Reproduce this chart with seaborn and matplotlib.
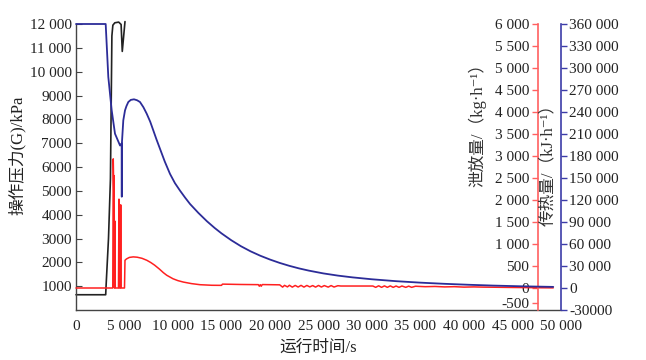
import matplotlib
matplotlib.use("Agg")
import matplotlib.pyplot as plt
import seaborn as sns
import pandas as pd

# ---------------- data ----------------
# pressure (kPa, left axis)
p_time = [0, 3060, 3100, 3350, 3550, 3700, 3800, 4000, 4400, 4650, 4770, 5050]
p_val = [640, 640, 1000, 3000, 5500, 11500, 11950, 12050, 12080, 11980, 10850, 12100]

# heat transfer (kJ/h, blue axis)
q_time = [0, 3060, 3330, 3680, 4020, 4540, 4711, 4720, 4730, 4876, 5052, 5200, 5392,
          5650, 5979, 6300, 6598, 6950, 7289, 7650, 7969, 8300, 8660, 9150, 9691,
          10200, 10722, 11250, 11753, 12608, 13500, 14300, 15000, 16000, 17000,
          18000, 19000, 20000, 21000, 22000, 23000, 24000, 25500, 27000, 28500,
          30500, 33000, 35500, 38000, 40500, 43000, 46000, 49200]
q_val = [360000, 360000, 287800, 242200, 210400, 194300, 197100, 124500, 197100, 228600,
         242200, 248000, 253600, 256500, 257300, 256000, 253600, 246500, 237700,
         226800, 214900, 202500, 189800, 172500, 155600, 143000, 132800, 123200,
         114600, 102500, 91000, 81800, 74500, 65200, 57000, 50000, 44000, 38800,
         34200, 30200, 26700, 23700, 19900, 16900, 14500, 11900, 9300, 7300, 5700,
         4400, 3300, 2300, 1500]

# release rate (kg/h, red axis)
r_time = [0, 3790, 3840, 3900, 3930, 3970, 4010, 4050, 4380, 4430, 4480, 4560, 4610,
          4660, 5000, 5050, 5200, 5500, 5900, 6300, 6800, 7300, 7700, 8100, 8600,
          9000, 9351, 10000, 10500, 11062, 11900, 12784, 14000, 15000, 15100,
          17000, 18800, 18900, 19000, 19100, 19200, 21000, 21300, 21500, 21800, 22000,
          22300, 22600, 22900, 23200, 23500, 23800, 24100, 24400, 24700, 25000, 25300,
          25600, 26000, 26300, 26600, 27000, 27300, 28200, 30600, 30900, 31200, 31500,
          31800, 32100, 32400, 32700, 33000, 33300, 33600, 34000, 34300, 34600, 35000,
          36000, 37000, 38000, 39000, 40000, 41000, 42000, 43000, 44000, 45000, 46000,
          47000, 48000, 49200]
r_val = [0, 0, 2935, 2100, 2555, 0, 1520, 0, 0, 2020, 0, 0, 1890,
         0, 0, 630, 660, 695, 707, 700, 675, 630, 580, 520, 430,
         350, 290, 210, 168, 135, 100, 75, 62, 60, 88,
         80, 76, 40, 76, 40, 78, 72, 20, 60, 25, 62, 20, 58, 22, 60, 20, 58, 25, 55,
         20, 58, 22, 55, 20, 55, 22, 52, 45, 45, 45, 15, 50, 15, 48, 15, 48, 15, 45,
         15, 45, 15, 42, 15, 40, 30, 35, 25, 30, 20, 25, 20, 18, 15, 12, 10, 8, 5, 3]

x_ticks = [0, 5000, 10000, 15000, 20000, 25000, 30000, 35000, 40000, 45000, 50000]
x_labels = ["0", "5 000", "10 000", "15 000", "20 000", "25 000", "30 000",
            "35 000", "40 000", "45 000", "50 000"]
p_ticks = [1000, 2000, 3000, 4000, 5000, 6000, 7000, 8000, 9000, 10000, 11000, 12000]
p_labels = ["1000", "2000", "3000", "4000", "5000", "6000", "7000", "8000", "9000",
            "10 000", "11 000", "12 000"]
# the reference draws its "-500" mark just below the zero mark
r_ticks = [-330, 0, 500, 1000, 1500, 2000, 2500, 3000, 3500, 4000, 4500, 5000, 5500, 6000]
r_labels = ["-500", "0", "500", "1 000", "1 500", "2 000", "2 500", "3 000", "3 500",
            "4 000", "4 500", "5 000", "5 500", "6 000"]
q_ticks = [-30000, 0, 30000, 60000, 90000, 120000, 150000, 180000, 210000, 240000,
           270000, 300000, 330000, 360000]
q_labels = ["-30000", "0", "30 000", "60 000", "90 000", "120 000", "150 000", "180 000",
            "210 000", "240 000", "270 000", "300 000", "330 000", "360 000"]

# ---------------- style ----------------
sns.set_theme(style="white")
plt.rcParams["font.family"] = ["Liberation Serif", "Noto Sans CJK SC", "DejaVu Sans"]
plt.rcParams["axes.unicode_minus"] = False

FS = 11
LFS = 12
C_BLACK = "#222222"
C_BLUE = "#2c2c98"
C_RED = "#ff2020"
C_RED_SP = "#ff6060"
C_BLUE_SP = "#3c3ca8"

fig = plt.figure(figsize=(6.46, 3.6), dpi=100)
ax = fig.add_axes([76 / 646, 1 - 310 / 360, 485 / 646, 286 / 360])
ax_r = ax.twinx()
ax_b = ax.twinx()

df_p = pd.DataFrame({"t": p_time, "v": p_val})
df_q = pd.DataFrame({"t": q_time, "v": q_val})
df_r = pd.DataFrame({"t": r_time, "v": r_val})

sns.lineplot(data=df_p, x="t", y="v", ax=ax, color=C_BLACK, lw=1.2,
             estimator=None, sort=False)
sns.lineplot(data=df_r, x="t", y="v", ax=ax_r, color=C_RED, lw=1.1,
             estimator=None, sort=False)
sns.lineplot(data=df_q, x="t", y="v", ax=ax_b, color=C_BLUE, lw=1.3,
             estimator=None, sort=False)
for a in (ax, ax_r, ax_b):
    for ln in a.lines:
        ln.set_clip_on(False)
        ln.set_solid_joinstyle("round")

ax.set_xlim(0, 50000)
ax.set_ylim(0, 12000)
ax_r.set_ylim(-500, 6000)
ax_b.set_ylim(-30000, 360000)

# main axis
ax.set_xticks(x_ticks)
ax.set_xticklabels(x_labels, fontsize=FS)
ax.set_yticks(p_ticks)
ax.set_yticklabels(p_labels, fontsize=FS)
ax.tick_params(axis="both", direction="in", length=4, width=0.8, color="#444444",
               labelcolor="#222222")
ax.tick_params(axis="x", pad=7)
ax.tick_params(axis="y", pad=3)
for s in ("top", "right"):
    ax.spines[s].set_visible(False)
for s in ("left", "bottom"):
    ax.spines[s].set_color("#444444")
    ax.spines[s].set_linewidth(1.0)
ax.set_xlabel("运行时间/s", fontsize=LFS, color="#222222")
ax.xaxis.set_label_coords(0.5, -0.105)
ax.set_ylabel("操作压力(G)/kPa", fontsize=LFS, color="#222222")
ax.yaxis.set_label_coords(-0.103, 0.54)

# red axis (inside, at ~47 600 s)
for s in ("top", "right", "bottom"):
    ax_r.spines[s].set_visible(False)
ax_r.spines["left"].set_visible(True)
ax_r.spines["left"].set_position(("axes", 0.952))
ax_r.spines["left"].set_color(C_RED_SP)
ax_r.spines["left"].set_linewidth(1.2)
ax_r.yaxis.set_ticks_position("left")
ax_r.yaxis.set_label_position("left")
ax_r.set_yticks(r_ticks)
ax_r.set_yticklabels(r_labels, fontsize=FS)
ax_r.tick_params(axis="y", direction="out", length=4, width=1.0, color=C_RED_SP,
                 labelcolor="#222222", pad=2)
ax_r.set_ylabel("泄放量/（kg·h⁻¹）", fontsize=LFS, color="#333333")
ax_r.yaxis.set_label_coords(0.846, 0.66)

# blue axis (right)
for s in ("top", "left", "bottom"):
    ax_b.spines[s].set_visible(False)
ax_b.spines["right"].set_color(C_BLUE_SP)
ax_b.spines["right"].set_linewidth(1.2)
ax_b.set_yticks(q_ticks)
ax_b.set_yticklabels(q_labels, fontsize=FS)
ax_b.tick_params(axis="y", direction="out", length=4, width=1.0, color=C_BLUE_SP,
                 labelcolor="#222222", pad=2)
ax_b.set_ylabel("传热量/（kJ·h⁻¹）", fontsize=LFS, color="#333333", rotation=90)
ax_b.yaxis.set_label_coords(0.957, 0.52)

ax_r.set_xlabel("")
ax_b.set_xlabel("")

fig.savefig("out.png", dpi=100)
